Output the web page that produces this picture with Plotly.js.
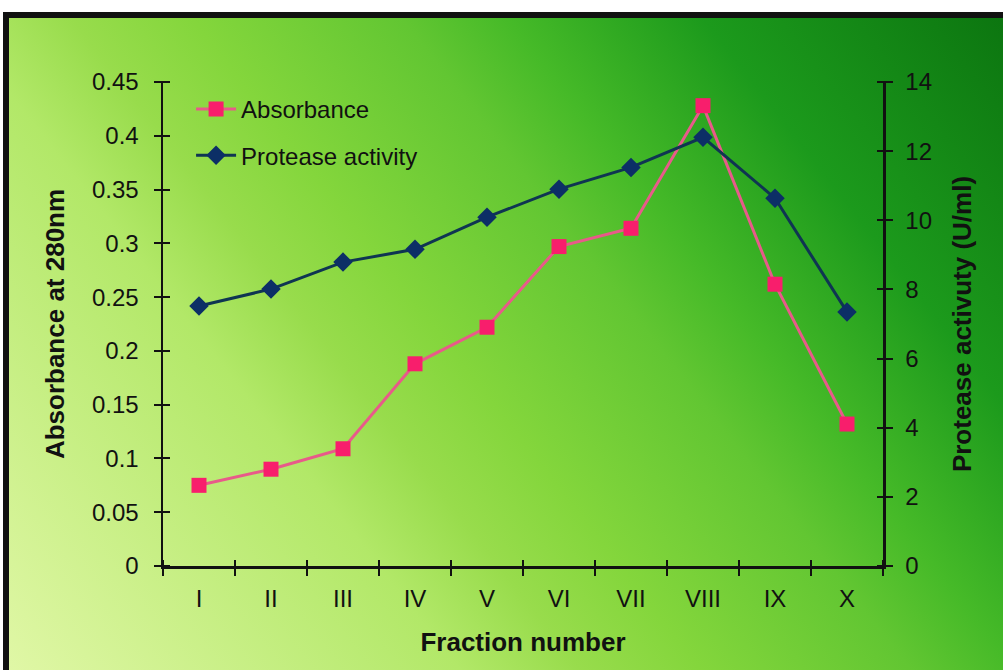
<!DOCTYPE html>
<html>
<head>
<meta charset="utf-8">
<script src="https://cdn.plot.ly/plotly-3.0.1.min.js"></script>
<style>
  html, body { margin: 0; padding: 0; background: #ffffff; width: 1003px; height: 670px; overflow: hidden; }
  #frame {
    position: absolute; left: 3px; top: 12px; width: 1000px; height: 658px;
    border-left: 6px solid #111; border-top: 6px solid #111; box-sizing: border-box;
    background: linear-gradient(52deg, #e0f7a6 0%, #b2e868 30%, #98dc4c 38%, #84d63c 46%, #62c632 60%, #46ba28 67%, #1c9a1c 80%, #0c7610 100%);
  }
  #chart { position: absolute; left: 0; top: 0; width: 1003px; height: 670px; }
</style>
</head>
<body>
<div id="frame"></div>
<div id="chart"></div>
<script>
const fractions = ["I", "II", "III", "IV", "V", "VI", "VII", "VIII", "IX", "X"];
const absorbance = [0.075, 0.090, 0.109, 0.188, 0.222, 0.297, 0.314, 0.428, 0.262, 0.132];
const proteaseActivity = [7.52, 8.01, 8.79, 9.16, 10.09, 10.90, 11.53, 12.40, 10.64, 7.35];

const font = "'Liberation Sans', Arial, sans-serif";
const tickSize = 24;
const titleSize = 26;
const plotW = 720, plotH = 484, halfTick = 7;

const traces = [
  { x: fractions, y: absorbance, xaxis: "x", yaxis: "y3", mode: "none", showlegend: false, hoverinfo: "skip", type: "scatter" },
  { x: fractions, y: proteaseActivity, xaxis: "x", yaxis: "y4", mode: "none", showlegend: false, hoverinfo: "skip", type: "scatter" },
  { x: fractions, y: absorbance, xaxis: "x2", yaxis: "y", mode: "none", showlegend: false, hoverinfo: "skip", type: "scatter" },
  {
    x: fractions, y: absorbance, name: "Absorbance", type: "scatter", mode: "lines+markers",
    xaxis: "x", yaxis: "y", legendgroup: "a",
    line: { color: "#e85a8a", width: 3 },
    marker: { symbol: "square", size: 15, color: "#f81e6c", line: { width: 0 } }
  },
  {
    x: fractions, y: proteaseActivity, name: "Protease activity", type: "scatter", mode: "lines+markers",
    xaxis: "x", yaxis: "y2", legendgroup: "b",
    line: { color: "#0f3552", width: 3 },
    marker: { symbol: "diamond", size: 15, color: "#0c2f66", line: { width: 0 } }
  }
];

const tickCommon = { ticklen: 7, tickwidth: 2, tickcolor: "#111", linecolor: "#111", linewidth: 2.5, showgrid: false, zeroline: false, fixedrange: true };

const layout = {
  width: 1003, height: 670,
  paper_bgcolor: "rgba(0,0,0,0)", plot_bgcolor: "rgba(0,0,0,0)",
  margin: { l: 163, r: 120, t: 82, b: 104, pad: 0 },
  font: { family: font, size: tickSize, color: "#111" },
  showlegend: true,
  legend: {
    x: 0.039, y: 0.99, xanchor: "left", yanchor: "top",
    bgcolor: "rgba(0,0,0,0)", borderwidth: 0,
    font: { family: font, size: tickSize, color: "#111" },
    traceorder: "grouped", tracegroupgap: 12, itemwidth: 40
  },
  xaxis: Object.assign({}, tickCommon, {
    type: "category", categoryarray: fractions, categoryorder: "array",
    range: [-0.5, 9.5], tickson: "boundaries", ticks: "outside", showline: true,
    ticklabelstandoff: 10, anchor: "y",
    tickfont: { family: font, size: tickSize, color: "#111" },
    title: { text: "<b>Fraction number</b>", font: { family: font, size: titleSize, color: "#111" }, standoff: 22 },
    automargin: false
  }),
  xaxis2: Object.assign({}, tickCommon, {
    type: "category", categoryarray: fractions, categoryorder: "array",
    range: [-0.5, 9.5], tickson: "boundaries", ticks: "outside", ticklen: 2 * halfTick, showline: false,
    showticklabels: false, overlaying: "x", anchor: "free", position: halfTick / plotH, side: "bottom"
  }),
  yaxis: Object.assign({}, tickCommon, {
    range: [0, 0.45], dtick: 0.05, tick0: 0, ticks: "outside", showline: true,
    ticklabelstandoff: 10, anchor: "x",
    tickfont: { family: font, size: tickSize, color: "#111" },
    title: { text: "<b>Absorbance at 280nm</b>", font: { family: font, size: titleSize, color: "#111" }, standoff: 20 },
    automargin: false
  }),
  yaxis2: Object.assign({}, tickCommon, {
    range: [0, 14], dtick: 2, tick0: 0, ticks: "outside", showline: true,
    side: "right", overlaying: "y", anchor: "x",
    ticklabelstandoff: 8,
    tickfont: { family: font, size: tickSize, color: "#111" },
    title: { text: "<b>Protease activuty (U/ml)</b>", font: { family: font, size: titleSize, color: "#111" }, standoff: 22 },
    automargin: false
  }),
  yaxis3: Object.assign({}, tickCommon, {
    range: [0, 0.45], dtick: 0.05, tick0: 0, ticks: "outside", ticklen: 2 * halfTick, showline: false,
    showticklabels: false, overlaying: "y", anchor: "free", position: halfTick / plotW, side: "left"
  }),
  yaxis4: Object.assign({}, tickCommon, {
    range: [0, 14], dtick: 2, tick0: 0, ticks: "outside", ticklen: 2 * halfTick, showline: false,
    showticklabels: false, overlaying: "y", anchor: "free", position: 1 - halfTick / plotW, side: "right"
  })
};

Plotly.newPlot("chart", traces, layout, { staticPlot: true, displayModeBar: false });
</script>
</body>
</html>
